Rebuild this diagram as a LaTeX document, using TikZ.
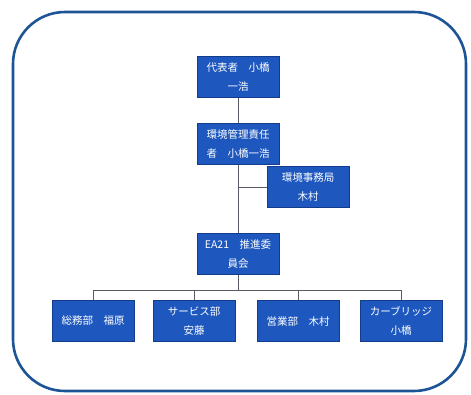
\documentclass[tikz,border=0pt]{standalone}
\usepackage{fontspec}
\newfontfamily\jp{Noto Sans CJK JP}
\definecolor{frame}{RGB}{28,84,150}
\definecolor{boxfill}{RGB}{30,88,190}
\definecolor{boxedge}{RGB}{20,60,140}
\definecolor{conn}{RGB}{90,90,100}
\tikzset{
  orgbox/.style={draw=boxedge, line width=0.6pt, fill=boxfill, text=white,
    minimum width=82pt, minimum height=41pt, inner sep=1pt, align=center,
    font=\jp\fontsize{10.5}{19}\selectfont},
  link/.style={draw=conn, line width=0.8pt}
}
\begin{document}
\begin{tikzpicture}[x=1pt,y=-1pt]
\useasboundingbox (0,0) rectangle (471,394);
\draw[frame, line width=2.6pt, rounded corners=52pt] (13,12) rectangle (466,391);
\node[orgbox] (rep) at (238,77) {代表者　小橋\\一浩};
\node[orgbox] (mgr) at (238,144) {環境管理責任\\者　小橋一浩};
\node[orgbox] (sec) at (308,187) {環境事務局\\木村};
\node[orgbox] (com) at (238,254) {EA21　推進委\\員会};
\node[orgbox] (d1) at (93,321) {総務部　福原};
\node[orgbox] (d2) at (194,321) {サービス部\\安藤};
\node[orgbox] (d3) at (298,321) {営業部　木村};
\node[orgbox] (d4) at (401,321) {カーブリッジ\\小橋};
\coordinate (j1) at (238,187);
\coordinate (bus) at (238,290);
\coordinate (bl) at (93,290);
\coordinate (br) at (401,290);
\draw[link] (rep) -- (mgr);
\draw[link] (mgr) -- (com);
\draw[link] (j1) -- (sec.west);
\draw[link] (com) -- (bus);
\draw[link] (bl) -- (br);
\draw[link] (bl) -- (d1);
\draw[link] (194,290) -- (d2);
\draw[link] (298,290) -- (d3);
\draw[link] (br) -- (d4);
\end{tikzpicture}
\end{document}
